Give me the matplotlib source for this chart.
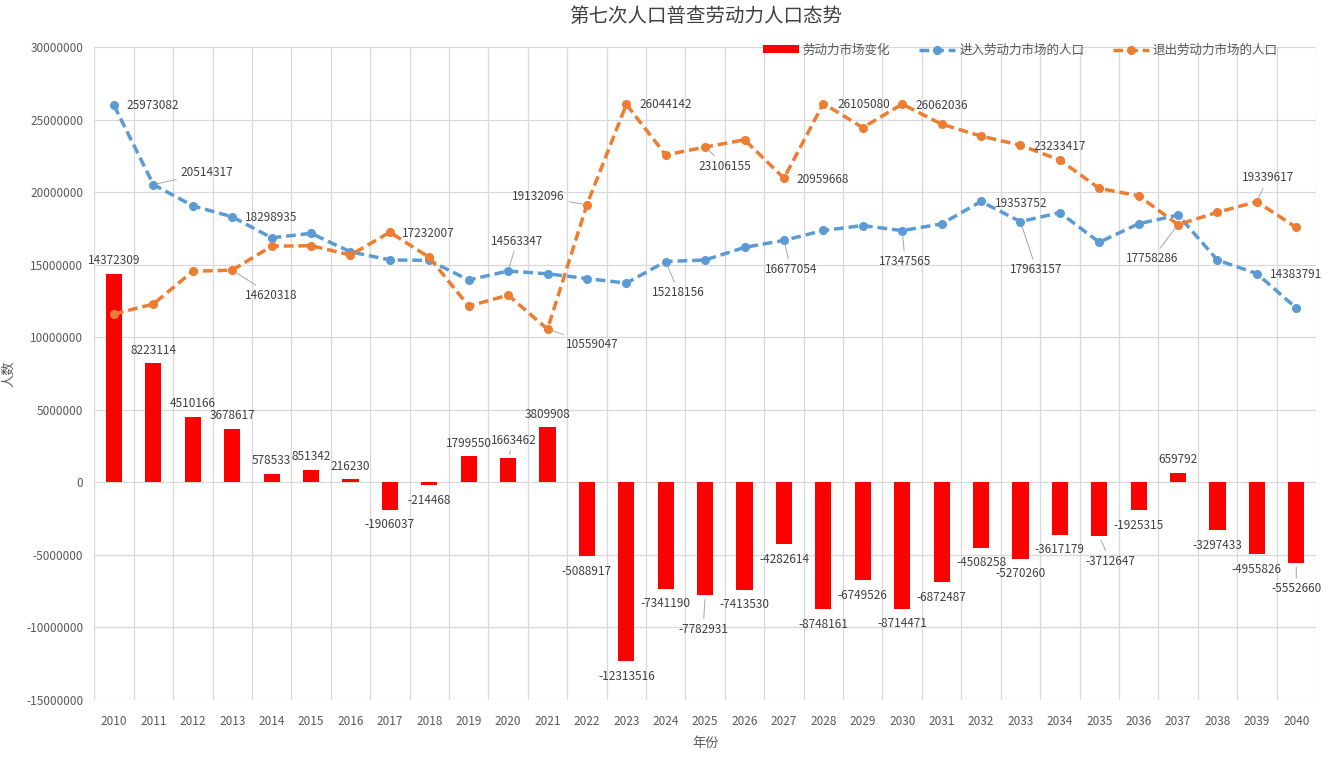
import numpy as np
import matplotlib.pyplot as plt

plt.rcParams['font.family'] = ['Noto Sans CJK SC', 'DejaVu Sans']

years = [str(y) for y in range(2010, 2041)]

# 进入劳动力市场的人口
enter = [25973082, 20514317, 19055000, 18298935, 16850000, 17160000, 15883000,
         15325970, 15290000, 13945000, 14563347, 14368955, 14043179, 13730626,
         15218156, 15323224, 16190000, 16677054, 17356919, 17695000, 17347565,
         17810000, 19353752, 17963157, 18590000, 16545000, 17822000, 18418078,
         15315000, 14383791, 12010000]

# 退出劳动力市场的人口
leave = [11600773, 12291203, 14544834, 14620318, 16271467, 16308658, 15666770,
         17232007, 15504468, 12145450, 12899885, 10559047, 19132096, 26044142,
         22559346, 23106155, 23603530, 20959668, 26105080, 24444526, 26062036,
         24682487, 23862010, 23233417, 22207179, 20257647, 19747315, 17758286,
         18612433, 19339617, 17562660]

# 劳动力市场变化
change = [14372309, 8223114, 4510166, 3678617, 578533, 851342, 216230,
          -1906037, -214468, 1799550, 1663462, 3809908, -5088917, -12313516,
          -7341190, -7782931, -7413530, -4282614, -8748161, -6749526, -8714471,
          -6872487, -4508258, -5270260, -3617179, -3712647, -1925315, 659792,
          -3297433, -4955826, -5552660]

blue = '#5B9BD5'
orange = '#ED7D31'
red = '#FF0000'
txt = '#404040'
grid = '#D9D9D9'

fig = plt.figure(figsize=(13.3, 7.7), dpi=100)
ax = fig.add_axes([94.3 / 1330, 1 - 700 / 770, 1221.7 / 1330, 653 / 770])

x = np.arange(len(years))
bars = ax.bar(x, change, width=0.41, color=red, zorder=2, label='劳动力市场变化')
l1, = ax.plot(x, enter, color=blue, lw=2.5, ls=(0, (2.8, 1.4)), marker='o', ms=5.5,
              zorder=3, label='进入劳动力市场的人口')
l2, = ax.plot(x, leave, color=orange, lw=2.5, ls=(0, (2.8, 1.4)), marker='o', ms=5.5,
              zorder=3, label='退出劳动力市场的人口')

ax.set_xlim(-0.5, len(years) - 0.5)
ax.set_ylim(-15000000, 30000000)
ax.set_yticks(range(-15000000, 30000001, 5000000))
ax.set_yticklabels([str(v) for v in range(-15000000, 30000001, 5000000)])
ax.set_xticks(x)
ax.set_xticklabels(years)
ax.set_xticks(np.arange(-0.5, len(years)), minor=True)
ax.tick_params(which='both', length=0, colors='#595959', labelsize=8.5)
ax.tick_params(axis='x', pad=11)
ax.tick_params(axis='y', pad=8)
ax.grid(axis='y', which='major', color=grid, lw=0.9, zorder=0)
ax.grid(axis='x', which='minor', color=grid, lw=0.9, zorder=0)
for s in ax.spines.values():
    s.set_visible(False)

lab = dict(fontsize=8.5, color=txt, zorder=5)
lead = dict(arrowstyle='-', color='#A6A6A6', lw=0.7, shrinkA=1, shrinkB=3)

# bar labels: (dx, dy) in pixels, special cases with leader lines
bar_off = {10: (6, 18), 15: (-2, -34), 25: (11, -25), 30: (0, -26)}
for i, v in enumerate(change):
    dx, dy = bar_off.get(i, (0, 13 if v > 0 else -15))
    ap = lead if i in bar_off else None
    ax.annotate(str(v), (i, v), xytext=(dx, dy), textcoords='offset pixels',
                ha='center', va='center', arrowprops=ap, **lab)

# line labels: index -> (dx, dy, ha, leader)
enter_lab = {0: (12, 0, 'left', False), 1: (27, 12, 'left', True),
             3: (13, -1, 'left', False), 10: (9, 30, 'center', True),
             14: (13, -31, 'center', True), 17: (7, -29, 'center', True),
             20: (3, -31, 'center', True), 22: (14, -2, 'left', False),
             23: (16, -48, 'center', True), 29: (13, -1, 'left', False)}
leave_lab = {3: (13, -25, 'left', True), 7: (12, -1, 'left', False),
             11: (18, -15, 'left', True), 12: (-22, 8, 'right', True),
             13: (13, 0, 'left', False), 15: (20, -19, 'center', True),
             17: (13, -1, 'left', False), 18: (14, -1, 'left', False),
             20: (13, -1, 'left', False), 23: (13, -1, 'left', False),
             27: (-26, -34, 'center', True), 29: (11, 24, 'center', True)}
for vals, labs in ((enter, enter_lab), (leave, leave_lab)):
    for i, (dx, dy, ha, ld) in labs.items():
        ax.annotate(str(vals[i]), (i, vals[i]), xytext=(dx, dy),
                    textcoords='offset pixels', ha=ha, va='center',
                    arrowprops=lead if ld else None, **lab)

ax.set_title('第七次人口普查劳动力人口态势', fontsize=14, color=txt, pad=18)
ax.set_xlabel('年份', fontsize=9.5, color='#595959', labelpad=6)
ax.set_ylabel('人数', fontsize=9.5, color='#595959', labelpad=8)

ax.legend([bars, l1, l2], [bars.get_label(), l1.get_label(), l2.get_label()],
          ncol=3, loc='center right', bbox_to_anchor=(0.978, 0.995),
          frameon=False, fontsize=9, labelcolor='#595959', handlelength=2.9,
          handleheight=0.6, handletextpad=0.3, columnspacing=2.3)

fig.savefig('out.png', dpi=100)
